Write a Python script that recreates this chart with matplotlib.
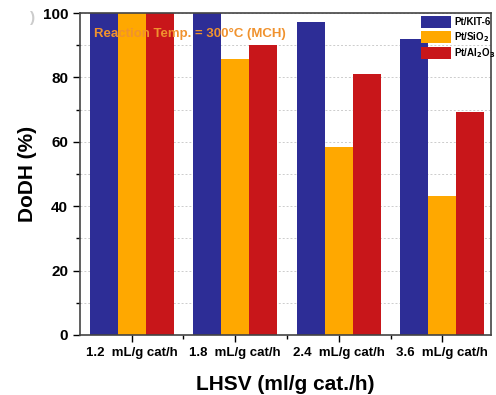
import numpy as np
import matplotlib.pyplot as plt
from matplotlib.ticker import MultipleLocator

# ---- data
lhsv = ['1.2  mL/g cat/h', '1.8  mL/g cat/h', '2.4  mL/g cat/h', '3.6  mL/g cat/h']
kit6 = [100, 100, 97.2, 91.8]
sio2 = [100, 85.6, 58.4, 43.2]
al2o3 = [100, 90.0, 81.2, 69.3]

catalysts = ['Pt/KIT-6', 'Pt/SiO$_\\mathbf{2}$', 'Pt/Al$_\\mathbf{2}$O$_\\mathbf{3}$']
colors = ['#2d2d96', '#ffa800', '#c8161a']

plt.rcParams['font.family'] = ['Liberation Sans', 'DejaVu Sans']
plt.rcParams['font.weight'] = 'bold'

fig = plt.figure(figsize=(4.96, 3.95), dpi=100)
ax = fig.add_axes([0.161, 0.152, 0.829, 0.815])

x = np.arange(len(lhsv))
w = 0.27
for i, (vals, lab, c) in enumerate(zip([kit6, sio2, al2o3], catalysts, colors)):
    ax.bar(x + (i - 1) * w, vals, w, color=c, label=lab, zorder=2)

ax.set_xlim(-0.5, 3.47)
ax.set_ylim(0, 100)
ax.set_xticks(x)
ax.set_xticklabels(lhsv, fontsize=9.5, fontweight='bold')
ax.set_xticks(x[:-1] + 0.5, minor=True)
ax.yaxis.set_major_locator(MultipleLocator(20))
ax.yaxis.set_minor_locator(MultipleLocator(10))
ax.tick_params(axis='y', labelsize=11, length=5, width=1)
ax.tick_params(axis='y', which='minor', length=3, width=1)
ax.tick_params(axis='x', which='major', length=5, width=1)
ax.tick_params(axis='x', which='minor', length=3, width=1)
for t in ax.get_yticklabels():
    t.set_fontweight('bold')
for s in ax.spines.values():
    s.set_color('#444444')
    s.set_linewidth(1.2)

ax.grid(axis='y', which='both', linestyle=(0, (2, 2)), color='#cccccc', linewidth=0.7, zorder=0)

ax.set_ylabel('DoDH (%)', fontsize=15, fontweight='bold', labelpad=4)
ax.set_xlabel('LHSV (ml/g cat./h)', fontsize=15, fontweight='bold', labelpad=12)

ax.text(0.035, 0.955, 'Reaction Temp. = 300°C (MCH)', transform=ax.transAxes,
        color='#f0922e', fontsize=9.5, fontweight='bold', va='top', zorder=5)

leg = ax.legend(loc='upper right', bbox_to_anchor=(1.025, 1.01), frameon=False,
                fontsize=7, handlelength=3.1, handleheight=1.5, labelspacing=0.25,
                handletextpad=0.3, borderaxespad=0.2)
for t in leg.get_texts():
    t.set_fontweight('bold')

fig.text(0.06, 0.955, ')', color='#cccccc', fontsize=11, va='center')

fig.savefig('out.png', dpi=100)
